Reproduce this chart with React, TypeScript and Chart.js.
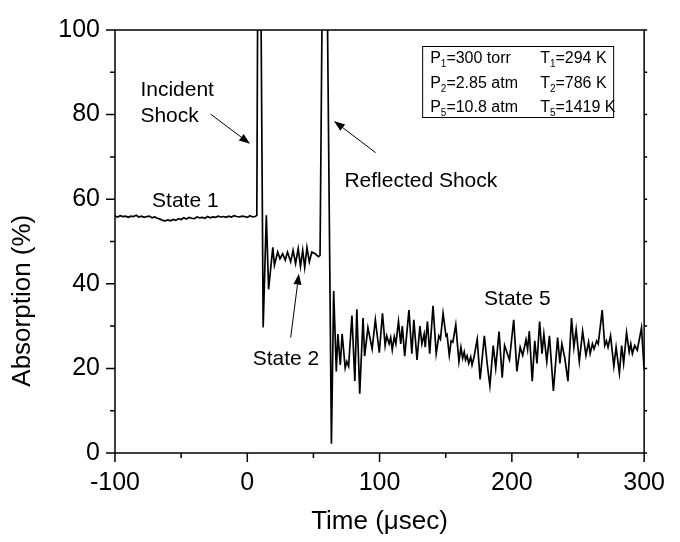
import React, { useEffect, useRef } from "react";
import { Chart, registerables } from "chart.js";

Chart.register(...registerables);

const FONT = '"Liberation Sans", Arial, Helvetica, sans-serif';

// ---------- data (time in µs, absorption in %) ----------
const state1Time = [
  -100, -98, -96, -94, -92, -90, -88, -86, -84, -82, -80, -78, -76, -74, -72, -70, -68, -66, -64, -62,
  -60, -58, -56, -54, -52, -50, -48, -46, -44, -42, -40, -38, -36, -34, -32, -30, -28, -26, -24, -22,
  -20, -18, -16, -14, -12, -10, -8, -6, -4, -2, 0, 2, 4, 6, 7.2,
];
const state1Abs = [
  56.0, 55.8, 56.1, 55.9, 56.0, 55.7, 56.0, 55.9, 56.2, 55.8, 56.0, 55.7, 55.9, 56.0, 55.6, 55.8, 55.5, 55.3, 55.0, 54.9,
  55.1, 54.9, 55.2, 55.0, 55.4, 55.2, 55.6, 55.3, 55.7, 55.5, 55.4, 55.8, 55.6, 55.7, 55.5, 55.9, 55.6, 55.8, 55.7, 56.0,
  55.8, 55.9, 55.7, 56.0, 55.8, 56.1, 55.9, 55.8, 56.0, 55.9, 55.7, 56.1, 55.8, 55.9, 56.2,
];

const incidentTime = [8.3, 9.6, 12.0, 14.4, 16.1, 19.3, 20.5];
const incidentAbs = [140, 140, 29.7, 56.2, 38.7, 48.6, 44.4];

const state2Time = [23.0, 24.7, 26.7, 28.7, 30.4, 32.8, 34.6, 36.5, 38.5, 40.2, 41.9, 43.4, 45.1, 46.9, 48.8, 51.3, 53.8, 55.0];
const state2Abs = [47.5, 45.9, 47.1, 45.6, 47.5, 45.2, 47.9, 44.8, 48.3, 44.1, 47.9, 43.9, 48.6, 45.2, 47.5, 47.1, 46.4, 46.7];

const reflectedTime = [57.5, 59.5, 63.6];
const reflectedAbs = [140, 140, 2.2];

const state5Time = [
  65.3, 67.3, 68.5, 70.3, 71.7, 74.0, 75.2, 76.6, 79.1, 81.3, 82.8, 85.0, 87.5, 88.7, 91.2, 94.4, 96.8, 99.8,
  102.2, 104.2, 105.4, 107.2, 108.4, 109.6, 111.1, 112.3, 114.3, 116.0, 117.2, 119.0, 122.2, 124.4, 125.9, 128.3,
  130.5, 132.0, 133.7, 134.5, 136.2, 137.9, 140.4, 142.8, 144.8, 146.0, 148.0, 150.2, 151.0, 152.7, 154.1, 155.4,
  157.6, 160.0, 161.5, 162.8, 164.0, 165.0, 166.2, 167.4, 168.9, 169.9, 171.4, 173.8, 176.0, 179.2, 181.7, 183.4,
  185.9, 187.8, 190.3, 192.7, 194.5, 198.2, 201.4, 203.8, 206.3, 208.2, 210.7, 211.9, 213.2, 215.4, 217.3, 219.0,
  221.0, 222.8, 224.2, 226.4, 228.4, 231.4, 234.6, 236.3, 237.8, 240.0, 242.4, 245.1, 246.9, 248.6, 251.0, 253.5,
  256.0, 258.0, 259.2, 260.9, 262.1, 264.1, 265.3, 268.3, 270.2, 271.5, 272.7, 274.6, 277.1, 278.8, 281.3, 283.0,
  284.5, 286.7, 288.7, 289.9, 291.1, 292.9, 294.8, 298.0, 300.0,
];
const state5Abs = [
  38.3, 19.3, 28.1, 20.8, 28.2, 20.1, 21.6, 20.5, 32.5, 17.0, 34.0, 14.0, 31.9, 22.9, 29.6, 24.6, 31.5, 23.7,
  33.0, 25.4, 27.7, 25.8, 27.3, 24.4, 27.5, 25.8, 31.1, 25.8, 30.0, 22.9, 33.8, 23.5, 31.5, 22.0,
  30.0, 25.8, 28.1, 25.0, 31.1, 23.5, 34.8, 23.5, 27.7, 26.9, 33.0, 27.7, 28.0, 23.1, 26.5, 26.2,
  30.3, 21.6, 25.0, 22.4, 23.9, 22.0, 23.0, 21.2, 22.7, 20.8, 22.7, 26.9, 17.4, 27.7, 20.1, 15.9,
  25.4, 20.1, 28.7, 17.8, 25.4, 22.0, 31.5, 19.3, 25.0, 23.1, 26.8, 24.5, 28.8, 17.0, 26.5, 21.2,
  31.1, 23.5, 28.1, 21.6, 27.7, 14.7, 27.3, 21.2, 25.8, 22.5, 17.0, 31.9, 25.0, 29.2, 21.6, 28.8,
  23.1, 26.2, 23.5, 25.8, 24.6, 26.5, 25.8, 33.8, 25.4, 26.5, 25.0, 27.7, 20.5, 25.0, 18.9, 25.4,
  21.2, 28.4, 23.9, 25.8, 23.5, 25.4, 24.3, 29.6, 19.7,
];

// axis settings
const xMin = -100;
const xMax = 300;
const xStep = 50;
const xLabelStep = 100;
const yMin = 0;
const yMax = 100;
const yStep = 10;
const yLabelStep = 20;
const xTitle = "Time (\u03bcsec)";
const yTitle = "Absorption (%)";

// annotations (text, data-coordinate anchor: left/baseline)
const labelTexts = ["Incident", "Shock", "State 1", "State 2", "Reflected Shock", "State 5"];
const labelTimes = [-80.8, -80.8, -72.0, 4.1, 73.4, 179.0];
const labelAbs = [84.5, 78.3, 58.2, 20.8, 63.0, 34.9];

// arrows: tail -> head (data coords)
const arrowTailTimes = [-27.7, 97.0, 32.8];
const arrowTailAbs = [80.1, 71.0, 27.3];
const arrowHeadTimes = [2.1, 65.5, 39.0];
const arrowHeadAbs = [73.1, 78.5, 42.4];

// conditions box rows: [symbol, subscript, rest]
const condLeftSym = ["P", "P", "P"];
const condLeftSub = ["1", "2", "5"];
const condLeftRest = ["=300 torr", "=2.85 atm", "=10.8 atm"];
const condRightSym = ["T", "T", "T"];
const condRightSub = ["1", "2", "5"];
const condRightRest = ["=294 K", "=786 K", "=1419 K"];

function buildPoints() {
  const pts: { x: number; y: number }[] = [];
  const add = (ts: number[], vs: number[]) => ts.forEach((t, i) => pts.push({ x: t, y: vs[i] }));
  add(state1Time, state1Abs);
  add(incidentTime, incidentAbs);
  add(state2Time, state2Abs);
  add(reflectedTime, reflectedAbs);
  add(state5Time, state5Abs);
  return pts;
}

const overlayPlugin = {
  id: "overlay",
  afterDraw(chart: any) {
    const ctx: CanvasRenderingContext2D = chart.ctx;
    const { left, right, top, bottom } = chart.chartArea;
    const xs = chart.scales.x;
    const ys = chart.scales.y;
    const X = (t: number) => xs.getPixelForValue(t);
    const Y = (v: number) => ys.getPixelForValue(v);
    ctx.save();
    ctx.strokeStyle = "#000";
    ctx.fillStyle = "#000";

    // frame
    ctx.lineWidth = 1.5;
    ctx.strokeRect(left, top, right - left, bottom - top);

    // tick marks
    ctx.beginPath();
    xs.ticks.forEach((tk: any) => {
      const px = X(tk.value);
      const major = Math.abs(tk.value % xLabelStep) < 1e-6;
      ctx.moveTo(px, bottom);
      ctx.lineTo(px, bottom + (major ? 9 : 5));
    });
    ys.ticks.forEach((tk: any) => {
      const py = Y(tk.value);
      const major = Math.abs(tk.value % yLabelStep) < 1e-6;
      ctx.moveTo(left, py);
      ctx.lineTo(left - (major ? 9 : 5), py);
      ctx.moveTo(right, py);
      ctx.lineTo(right + 3, py);
    });
    ctx.stroke();

    // axis titles
    ctx.font = `26px ${FONT}`;
    ctx.textAlign = "center";
    ctx.textBaseline = "alphabetic";
    ctx.fillText(xTitle, (left + right) / 2, 529);
    ctx.save();
    ctx.translate(30, Y(yMin) - (bottom - top) * 0.36);
    ctx.rotate(-Math.PI / 2);
    ctx.fillText(yTitle, 0, 0);
    ctx.restore();

    // annotations
    ctx.font = `21px ${FONT}`;
    ctx.textAlign = "left";
    labelTexts.forEach((txt, i) => {
      ctx.fillText(txt, X(labelTimes[i]), Y(labelAbs[i]));
    });

    // arrows
    ctx.lineWidth = 1;
    arrowTailTimes.forEach((_, i) => {
      const x0 = X(arrowTailTimes[i]);
      const y0 = Y(arrowTailAbs[i]);
      const x1 = X(arrowHeadTimes[i]);
      const y1 = Y(arrowHeadAbs[i]);
      const ang = Math.atan2(y1 - y0, x1 - x0);
      const hl = 11;
      const hw = 4;
      const bx = x1 - hl * Math.cos(ang);
      const by = y1 - hl * Math.sin(ang);
      ctx.beginPath();
      ctx.moveTo(x0, y0);
      ctx.lineTo(bx, by);
      ctx.stroke();
      ctx.beginPath();
      ctx.moveTo(x1, y1);
      ctx.lineTo(bx + hw * Math.sin(ang), by - hw * Math.cos(ang));
      ctx.lineTo(bx - hw * Math.sin(ang), by + hw * Math.cos(ang));
      ctx.closePath();
      ctx.fill();
    });

    // conditions box
    const bx0 = right - 222;
    const by0 = top + 16;
    const bw = 191;
    const bh = 71;
    ctx.lineWidth = 1;
    ctx.strokeRect(bx0 + 0.5, by0 + 0.5, bw, bh);
    const rowBase = [by0 + 17, by0 + 42, by0 + 66];
    const drawCond = (x: number, y: number, sym: string, sub: string, rest: string) => {
      ctx.font = `16px ${FONT}`;
      ctx.fillText(sym, x, y);
      let cx = x + ctx.measureText(sym).width;
      ctx.font = `10px ${FONT}`;
      ctx.fillText(sub, cx, y + 4);
      cx += ctx.measureText(sub).width;
      ctx.font = `16px ${FONT}`;
      ctx.fillText(rest, cx, y);
    };
    rowBase.forEach((yb, i) => {
      drawCond(bx0 + 8, yb, condLeftSym[i], condLeftSub[i], condLeftRest[i]);
      drawCond(bx0 + 118, yb, condRightSym[i], condRightSub[i], condRightRest[i]);
    });

    ctx.restore();
  },
};

export default function App() {
  const canvasRef = useRef<HTMLCanvasElement | null>(null);

  useEffect(() => {
    const canvas = canvasRef.current;
    if (!canvas) return;
    const chart = new Chart(canvas, {
      type: "line",
      data: {
        datasets: [
          {
            data: buildPoints(),
            borderColor: "#000",
            borderWidth: 1.7,
            pointRadius: 0,
            tension: 0,
            fill: false,
          },
        ],
      },
      options: {
        animation: false,
        responsive: false,
        devicePixelRatio: 1,
        parsing: false,
        normalized: true,
        layout: { padding: { left: 0, top: 15, right: 23, bottom: 0 } },
        plugins: { legend: { display: false }, tooltip: { enabled: false } },
        scales: {
          x: {
            type: "linear",
            min: xMin,
            max: xMax,
            afterFit: (s: any) => {
              s.height = 89;
            },
            grid: { display: true, drawOnChartArea: false, drawTicks: false },
            border: { display: false },
            ticks: {
              stepSize: xStep,
              autoSkip: false,
              maxRotation: 0,
              padding: 15,
              color: "#000",
              font: { family: FONT, size: 25 },
              callback: (v: any) => (Math.abs(Number(v) % xLabelStep) < 1e-6 ? String(v) : ""),
            },
          },
          y: {
            type: "linear",
            min: yMin,
            max: yMax,
            afterFit: (s: any) => {
              s.width = 115;
            },
            grid: { display: true, drawOnChartArea: false, drawTicks: false },
            border: { display: false },
            ticks: {
              stepSize: yStep,
              autoSkip: false,
              padding: 15,
              color: "#000",
              font: { family: FONT, size: 25 },
              callback: (v: any) => (Math.abs(Number(v) % yLabelStep) < 1e-6 ? String(v) : ""),
            },
          },
        },
      },
      plugins: [overlayPlugin],
    });
    return () => chart.destroy();
  }, []);

  return (
    <div style={{ position: "absolute", left: 0, top: 0, width: 680, height: 542, background: "#fff" }}>
      <canvas ref={canvasRef} width={680} height={542} style={{ display: "block", width: 680, height: 542 }} />
    </div>
  );
}
